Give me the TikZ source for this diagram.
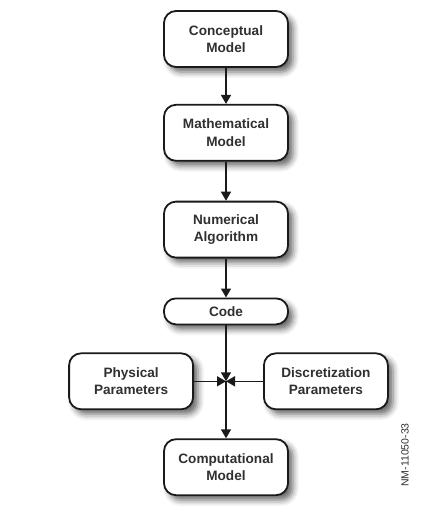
\documentclass[tikz,border=0pt]{standalone}
\usepackage{fontspec}
\setmainfont{Liberation Sans}
\usepackage{xcolor}
\usepackage{tikz}
\usetikzlibrary{positioning, arrows.meta, shadows.blur}
\definecolor{InkDark}{HTML}{1A1A1A}
\definecolor{TextGray}{HTML}{303030}

\begin{document}
\begin{tikzpicture}[
    x=1pt, y=1pt,
    node distance=38pt,
    stage/.style={
      rectangle, rounded corners=12pt,
      minimum width=124pt, minimum height=56pt,
      align=center, font=\fontsize{13.6}{17.5}\selectfont\bfseries,
      text=TextGray, draw=InkDark, line width=1.8pt, fill=white,
      blur shadow={shadow xshift=5pt, shadow yshift=-5pt,
        shadow blur radius=6pt, shadow opacity=60}
    },
    flow/.style={InkDark, line width=1.5pt, arrows={-Triangle[length=9pt, width=10pt]}}
  ]
    \useasboundingbox (0,0) rectangle (427,-513);

    %% Main chain
    \node[stage] (concept) at (226,-39) {Conceptual\\Model};
    \node[stage, below=36pt of concept] (math) {Mathematical\\Model};
    \node[stage, below=39pt of math] (numer) {Numerical\\Algorithm};
    \node[stage, minimum height=26pt, below=39pt of numer] (code) {Code};

    %% Junction and parameters
    \coordinate[below=56pt of code.south] (junc);
    \node[stage, left=32pt of junc] (phys) {Physical\\Parameters};
    \node[stage, right=37pt of junc] (discr) {Discretization\\Parameters};
    \node[stage, below=57pt of junc] (comput) {Computational\\Model};

    %% Figure tag
    \node[rotate=90, font=\fontsize{10.5}{12}\selectfont, text=TextGray] (tag) at (405,-455) {NM-11050-33};

    %% Draw arrows
    \draw[flow] (concept) -- (math);
    \draw[flow] (math) -- (numer);
    \draw[flow] (numer) -- (code);
    \draw[flow] (code) -- (junc);
    \draw[flow] (phys) -- (junc);
    \draw[flow] (discr) -- (junc);
    \draw[flow] (junc) -- (comput);
  \end{tikzpicture}
\end{document}
